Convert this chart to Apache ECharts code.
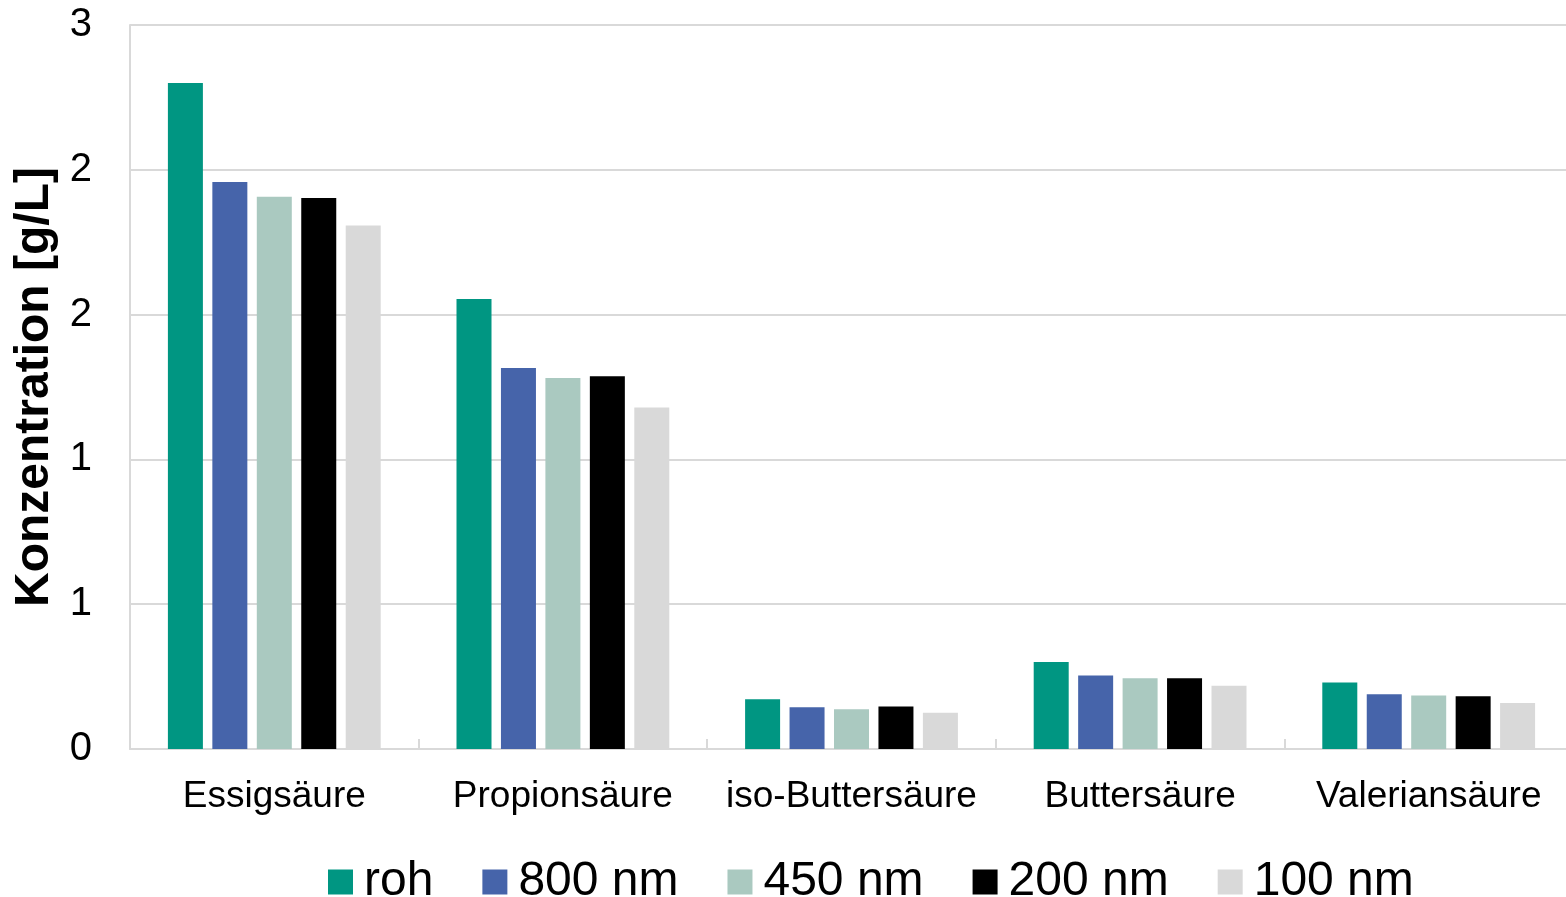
<!DOCTYPE html>
<html>
<head>
<meta charset="utf-8">
<script src="https://cdn.jsdelivr.net/npm/echarts@6/dist/echarts.min.js"></script>
<style>
  html, body { margin: 0; padding: 0; background: #fff; }
  #chart { width: 1566px; height: 897px; }
</style>
</head>
<body>
<div id="chart"></div>
<script>
// Volatile fatty acid concentrations after filtration at different pore sizes
const categories = ['Essigsäure', 'Propionsäure', 'iso-Buttersäure', 'Buttersäure', 'Valeriansäure'];
const seriesNames = ['roh', '800 nm', '450 nm', '200 nm', '100 nm'];
const seriesColors = ['#009682', '#4664AA', '#AAC9C0', '#000000', '#D9D9D9'];

const roh    = [2.300, 1.554, 0.172, 0.300, 0.230];
const nm800  = [1.958, 1.316, 0.144, 0.254, 0.189];
const nm450  = [1.907, 1.281, 0.137, 0.244, 0.185];
const nm200  = [1.903, 1.287, 0.147, 0.244, 0.182];
const nm100  = [1.808, 1.179, 0.125, 0.218, 0.159];

// Axis shows values rounded to whole numbers (0, 0.5, 1, ... → 0, 1, 1, 2, 2, 3)
const yTickValues = [0, 0.5, 1, 1.5, 2, 2.5];
const yTickLabels = ['0', '1', '1', '2', '2', '3'];

const seriesData = [roh, nm800, nm450, nm200, nm100];
const FONT = '"Liberation Sans", Arial, sans-serif';

const chart = echarts.init(document.getElementById('chart'), null, { renderer: 'canvas' });

chart.setOption({
  animation: false,
  backgroundColor: '#ffffff',
  grid: {
    left: 130, top: 25, width: 1443, height: 724,
    containLabel: false,
    outerBoundsMode: 'none'
  },
  legend: {
    data: seriesNames,
    left: 323,
    top: 853,
    icon: 'rect',
    itemWidth: 25,
    itemHeight: 25,
    itemGap: 49,
    textStyle: { fontFamily: FONT, fontSize: 48, color: '#000', padding: [0, 0, 0, 6] }
  },
  xAxis: {
    type: 'category',
    data: categories,
    axisLine: { show: true, lineStyle: { color: '#D9D9D9', width: 2 } },
    axisTick: { show: true, inside: true, length: 10, lineStyle: { color: '#D9D9D9', width: 2 } },
    axisLabel: { fontFamily: FONT, fontSize: 37, color: '#000', margin: 29, interval: 0 },
    splitLine: { show: false }
  },
  yAxis: {
    type: 'value',
    min: 0,
    max: 2.5,
    interval: 0.5,
    name: 'Konzentration [g/L]',
    nameLocation: 'middle',
    nameGap: 70,
    nameRotate: 90,
    nameTextStyle: { fontFamily: FONT, fontSize: 48, fontWeight: 'bold', color: '#000' },
    axisLine: { show: true, lineStyle: { color: '#D9D9D9', width: 2 } },
    axisTick: { show: false },
    axisLabel: {
      fontFamily: FONT, fontSize: 40, color: '#000', margin: 38,
      padding: [4, 0, 0, 0],
      formatter: function (v) {
        const i = yTickValues.findIndex(t => Math.abs(t - v) < 1e-9);
        return i >= 0 ? yTickLabels[i] : '';
      }
    },
    splitLine: { show: true, lineStyle: { color: '#D9D9D9', width: 2 } }
  },
  series: seriesNames.map((name, i) => ({
    name: name,
    type: 'bar',
    data: seriesData[i],
    barWidth: 35,
    barGap: '27%',
    itemStyle: { color: seriesColors[i] }
  }))
});
</script>
</body>
</html>
